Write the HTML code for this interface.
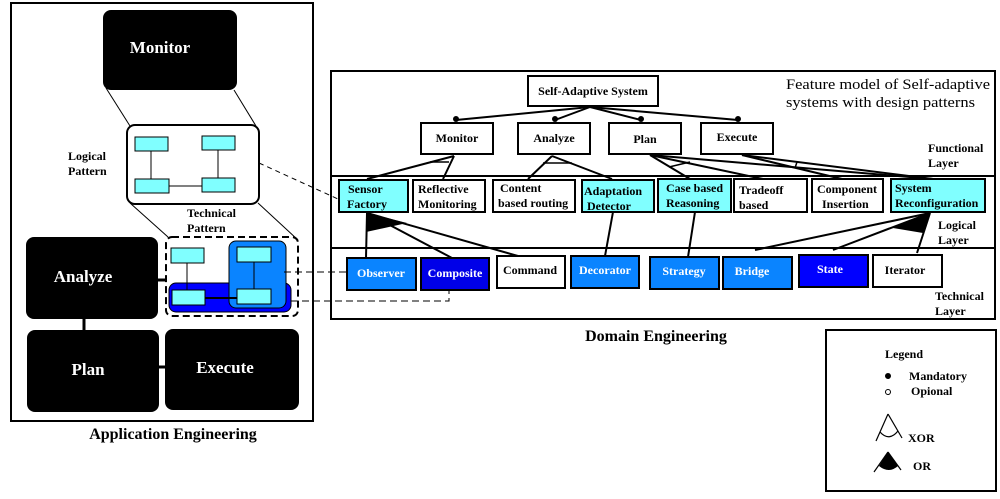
<!DOCTYPE html>
<html><head><meta charset="utf-8"><style>
html,body{margin:0;padding:0;background:#fff;}
svg{display:block;}
text{font-family:"Liberation Serif",serif;font-weight:bold;}
</style></head><body>
<svg width="1000" height="499" viewBox="0 0 1000 499" xmlns="http://www.w3.org/2000/svg">
<!-- LEFT: Application Engineering -->
<rect x="11" y="3" width="302" height="418" fill="none" stroke="#000" stroke-width="2"/>
<line x1="106" y1="88" x2="130" y2="126" stroke="#000" stroke-width="1"/>
<line x1="234" y1="90" x2="256" y2="126" stroke="#000" stroke-width="1"/>
<rect x="103" y="10" width="134" height="80" rx="8" fill="#000"/>
<text x="160" y="53" font-size="17" fill="#fff" text-anchor="middle">Monitor</text>

<line x1="130" y1="203" x2="168" y2="237" stroke="#000" stroke-width="1"/>
<line x1="258" y1="203" x2="298" y2="240" stroke="#000" stroke-width="1"/>
<rect x="127" y="125" width="132" height="79" rx="8" fill="#fff" stroke="#000" stroke-width="2"/>
<line x1="151" y1="151" x2="151" y2="179" stroke="#000"/>
<line x1="218" y1="150" x2="218" y2="178" stroke="#000"/>
<line x1="169" y1="186" x2="202" y2="186" stroke="#000"/>
<rect x="135" y="137" width="33" height="14" fill="#80ffff" stroke="#000"/>
<rect x="202" y="136" width="33" height="14" fill="#80ffff" stroke="#000"/>
<rect x="135" y="179" width="34" height="14" fill="#80ffff" stroke="#000"/>
<rect x="202" y="178" width="33" height="14" fill="#80ffff" stroke="#000"/>
<text x="68" y="160" font-size="12">Logical</text>
<text x="68" y="175" font-size="12">Pattern</text>
<text x="187" y="217" font-size="12">Technical</text>
<text x="187" y="232" font-size="12">Pattern</text>

<rect x="166" y="237" width="132" height="79" rx="6" fill="#fff" stroke="#000" stroke-width="2" stroke-dasharray="7,4"/>
<rect x="169" y="283" width="122" height="29" rx="7" fill="#0000ff" stroke="#000" stroke-width="1"/>
<rect x="229" y="241" width="57" height="67" rx="7" fill="#0a84ff" stroke="#000" stroke-width="1"/>
<line x1="187" y1="263" x2="187" y2="290" stroke="#000"/>
<line x1="254" y1="262" x2="254" y2="289" stroke="#000"/>
<line x1="205" y1="298" x2="237" y2="298" stroke="#000" stroke-width="2"/>
<rect x="171" y="248" width="33" height="15" fill="#80ffff" stroke="#000"/>
<rect x="237" y="247" width="34" height="15" fill="#80ffff" stroke="#000"/>
<rect x="172" y="290" width="33" height="15" fill="#80ffff" stroke="#000"/>
<rect x="237" y="289" width="34" height="15" fill="#80ffff" stroke="#000"/>

<rect x="26" y="237" width="132" height="82" rx="8" fill="#000"/>
<text x="83" y="282" font-size="17" fill="#fff" text-anchor="middle">Analyze</text>
<line x1="158" y1="280" x2="166" y2="280" stroke="#000" stroke-width="3"/>
<line x1="84" y1="318" x2="84" y2="331" stroke="#000" stroke-width="3"/>
<rect x="27" y="330" width="132" height="82" rx="8" fill="#000"/>
<text x="88" y="375" font-size="17" fill="#fff" text-anchor="middle">Plan</text>
<line x1="158" y1="367" x2="166" y2="367" stroke="#000" stroke-width="3"/>
<rect x="165" y="329" width="134" height="81" rx="8" fill="#000"/>
<text x="225" y="373" font-size="17" fill="#fff" text-anchor="middle">Execute</text>
<text x="173" y="439" font-size="16" text-anchor="middle">Application Engineering</text>

<!-- dashed connectors -->
<line x1="259" y1="163" x2="338" y2="199" stroke="#000" stroke-width="1" stroke-dasharray="5,4"/>
<line x1="284" y1="272" x2="347" y2="272" stroke="#000" stroke-width="1" stroke-dasharray="7,4"/>
<polyline points="291,301 449,301 449,290" fill="none" stroke="#000" stroke-width="1" stroke-dasharray="7,4"/>

<!-- RIGHT: Domain Engineering -->
<rect x="331" y="71" width="664" height="248" fill="none" stroke="#000" stroke-width="2"/>
<line x1="331" y1="176" x2="995" y2="176" stroke="#000" stroke-width="2"/>
<line x1="331" y1="248" x2="995" y2="248" stroke="#000" stroke-width="2"/>
<text x="786" y="89" font-size="15" style="font-weight:normal" textLength="204" lengthAdjust="spacingAndGlyphs">Feature model of Self-adaptive</text>
<text x="786" y="107" font-size="15" style="font-weight:normal" textLength="189" lengthAdjust="spacingAndGlyphs">systems with design patterns</text>
<text x="928" y="152" font-size="12">Functional</text>
<text x="928" y="167" font-size="12">Layer</text>
<text x="938" y="229" font-size="12">Logical</text>
<text x="938" y="244" font-size="12">Layer</text>
<text x="935" y="300" font-size="12">Technical</text>
<text x="935" y="315" font-size="12">Layer</text>

<!-- root connectors -->
<g stroke="#000" stroke-width="2">
<line x1="590" y1="107" x2="456" y2="120"/>
<line x1="590" y1="107" x2="555" y2="120"/>
<line x1="590" y1="107" x2="641" y2="120"/>
<line x1="590" y1="107" x2="738" y2="120"/>
</g>
<g fill="#000">
<circle cx="456" cy="119" r="3"/><circle cx="555" cy="119" r="3"/>
<circle cx="641" cy="119" r="3"/><circle cx="738" cy="119" r="3"/>
</g>
<rect x="528" y="76" width="130" height="30" fill="#fff" stroke="#000" stroke-width="2"/>
<text x="593" y="95" font-size="12" text-anchor="middle">Self-Adaptive System</text>

<g stroke="#000" stroke-width="2" fill="#fff">
<rect x="421" y="123" width="72" height="31"/>
<rect x="518" y="123" width="72" height="31"/>
<rect x="609" y="123" width="72" height="31"/>
<rect x="701" y="123" width="72" height="31"/>
</g>
<g font-size="12" text-anchor="middle">
<text x="457" y="142">Monitor</text>
<text x="554" y="142">Analyze</text>
<text x="645" y="143">Plan</text>
<text x="737" y="141">Execute</text>
</g>

<!-- functional -> logical -->
<g stroke="#000" stroke-width="2" fill="none">
<line x1="454" y1="156" x2="367" y2="179"/>
<line x1="454" y1="156" x2="443" y2="179"/>
<line x1="552" y1="156" x2="528" y2="179"/>
<line x1="552" y1="156" x2="612" y2="179"/>
<line x1="650" y1="155" x2="690" y2="179"/>
<line x1="650" y1="155" x2="763" y2="179"/>
<line x1="650" y1="155" x2="933" y2="179"/>
<line x1="742" y1="155" x2="842" y2="179"/>
<line x1="742" y1="155" x2="933" y2="179"/>
</g>
<g stroke="#000" stroke-width="1.5">
<line x1="430" y1="162" x2="449" y2="162"/>
<line x1="543" y1="163" x2="572" y2="163"/>
<line x1="669" y1="167" x2="690" y2="162"/>
<line x1="797" y1="162" x2="795" y2="168"/>
</g>

<!-- logical boxes -->
<g stroke="#000" stroke-width="2">
<rect x="339" y="180" width="69" height="32" fill="#80ffff"/>
<rect x="413" y="180" width="72" height="32" fill="#fff"/>
<rect x="493" y="180" width="82" height="32" fill="#fff"/>
<rect x="582" y="180" width="72" height="32" fill="#80ffff"/>
<rect x="658" y="179" width="73" height="33" fill="#80ffff"/>
<rect x="734" y="179" width="73" height="33" fill="#fff"/>
<rect x="812" y="179" width="71" height="33" fill="#fff"/>
<rect x="891" y="179" width="94" height="33" fill="#80ffff"/>
</g>
<g font-size="12">
<text x="348" y="193">Sensor</text><text x="347" y="208">Factory</text>
<text x="418" y="193">Reflective</text><text x="418" y="208">Monitoring</text>
<text x="500" y="192">Content</text><text x="498" y="207">based routing</text>
<text x="584" y="195">Adaptation</text><text x="587" y="210">Detector</text>
<text x="666" y="192">Case based</text><text x="666" y="207">Reasoning</text>
<text x="739" y="194">Tradeoff</text><text x="739" y="209">based</text>
<text x="817" y="193">Component</text><text x="822" y="208">Insertion</text>
<text x="895" y="192">System</text><text x="895" y="207">Reconfiguration</text>
</g>

<!-- logical -> technical -->
<g stroke="#000" stroke-width="2">
<line x1="367" y1="213" x2="366" y2="258"/>
<line x1="367" y1="213" x2="452" y2="258"/>
<line x1="367" y1="213" x2="518" y2="256"/>
<line x1="613" y1="212" x2="605" y2="256"/>
<line x1="695" y1="212" x2="688" y2="257"/>
<line x1="930" y1="213" x2="755" y2="250"/>
<line x1="930" y1="213" x2="833" y2="250"/>
<line x1="930" y1="213" x2="917" y2="253"/>
</g>
<path d="M367,213 L366,232 L407,223 Z" fill="#000"/>
<path d="M930,213 L893,228 L923,233 Z" fill="#000"/>

<!-- technical boxes -->
<g stroke="#000" stroke-width="2">
<rect x="347" y="258" width="69" height="32" fill="#0a84ff"/>
<rect x="421" y="258" width="68" height="32" fill="#0000e8"/>
<rect x="497" y="256" width="68" height="32" fill="#fff"/>
<rect x="571" y="256" width="68" height="32" fill="#0a84ff"/>
<rect x="650" y="257" width="69" height="32" fill="#0a84ff"/>
<rect x="723" y="257" width="69" height="32" fill="#0a84ff"/>
<rect x="799" y="255" width="69" height="32" fill="#0000ff"/>
<rect x="873" y="255" width="69" height="32" fill="#fff"/>
</g>
<g font-size="12" text-anchor="middle">
<text x="381" y="277" fill="#fff">Observer</text>
<text x="455" y="277" fill="#fff">Composite</text>
<text x="530" y="274">Command</text>
<text x="605" y="274" fill="#fff">Decorator</text>
<text x="684" y="275" fill="#fff">Strategy</text>
<text x="752" y="275" fill="#fff">Bridge</text>
<text x="830" y="273" fill="#fff">State</text>
<text x="905" y="274">Iterator</text>
</g>
<text x="656" y="341" font-size="16" text-anchor="middle">Domain Engineering</text>

<!-- Legend -->
<rect x="826" y="330" width="170" height="161" fill="#fff" stroke="#000" stroke-width="2"/>
<text x="885" y="358" font-size="12">Legend</text>
<circle cx="888" cy="376" r="3" fill="#000"/>
<text x="909" y="380" font-size="12">Mandatory</text>
<circle cx="888" cy="392" r="2.5" fill="#fff" stroke="#000"/>
<text x="911" y="395" font-size="12">Opional</text>
<g stroke="#000" stroke-width="1.2" fill="none">
<line x1="888" y1="414" x2="876" y2="441"/>
<line x1="888" y1="414" x2="902" y2="438"/>
<path d="M880,432 Q889,442 898,431"/>
<line x1="888" y1="452" x2="874" y2="472"/>
<line x1="888" y1="452" x2="901" y2="470"/>
</g>
<path d="M888,452 L879,466 Q889,474 898,466 Z" fill="#000"/>
<text x="908" y="442" font-size="12">XOR</text>
<text x="913" y="470" font-size="12">OR</text>
</svg>
</body></html>
